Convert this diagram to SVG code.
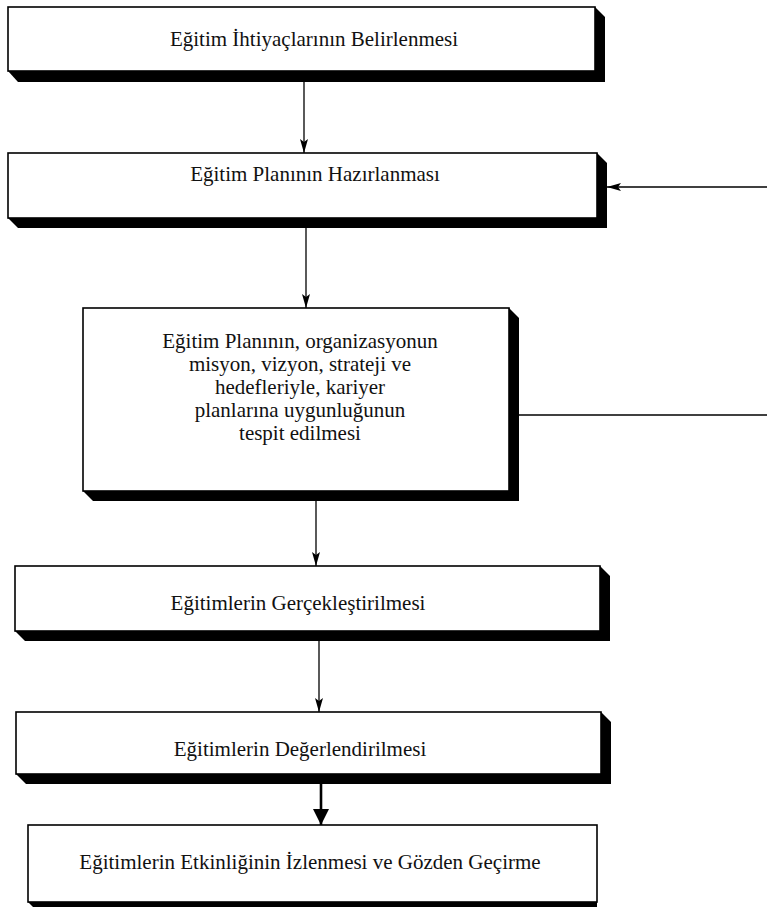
<svg xmlns="http://www.w3.org/2000/svg" width="767" height="911" viewBox="0 0 767 911">
  <defs>
    <style>
      .box { fill: #ffffff; stroke: #000000; stroke-width: 1.6; }
      .shadow { fill: #000000; }
      .lbl { font-family: "Liberation Serif", "Times New Roman", serif; font-size: 21px; fill: #111111; text-anchor: middle; }
      .conn { fill: none; stroke: #000000; stroke-width: 1.3; }
      .conn-bold { fill: none; stroke: #000000; stroke-width: 2.6; }
    </style>
    <marker id="arrow" viewBox="0 0 14 8" refX="14" refY="4" markerWidth="14" markerHeight="8" markerUnits="userSpaceOnUse" orient="auto">
      <path d="M0,0 L14,4 L0,8 L3,4 z" fill="#000000"/>
    </marker>
    <marker id="arrow-big" viewBox="0 0 16 16" refX="16" refY="8" markerWidth="17" markerHeight="16" markerUnits="userSpaceOnUse" orient="auto">
      <path d="M0,0 L16,8 L0,16 z" fill="#000000"/>
    </marker>
  </defs>

  <rect width="767" height="911" fill="#ffffff"/>

  <!-- connectors -->
  <g id="connectors">
    <line class="conn" x1="304" y1="82" x2="304" y2="153" marker-end="url(#arrow)"/>
    <line class="conn" x1="767" y1="187" x2="607" y2="187" marker-end="url(#arrow)"/>
    <line class="conn" x1="306" y1="228" x2="306" y2="308" marker-end="url(#arrow)"/>
    <line class="conn" x1="519" y1="415" x2="767" y2="415"/>
    <line class="conn" x1="316" y1="501" x2="316" y2="566" marker-end="url(#arrow)"/>
    <line class="conn" x1="319" y1="641" x2="319" y2="712" marker-end="url(#arrow)"/>
    <line class="conn-bold" x1="321" y1="784" x2="321" y2="825" marker-end="url(#arrow-big)"/>
  </g>

  <!-- needs analysis -->
  <g id="node-ihtiyac">
    <polygon class="shadow" points="595,7 605,17 605,82 18,82 8,71"/>
    <rect class="box" x="8" y="7" width="587" height="64"/>
    <text class="lbl" x="314" y="46">Eğitim İhtiyaçlarının Belirlenmesi</text>
  </g>

  <!-- plan preparation -->
  <g id="node-plan">
    <polygon class="shadow" points="597,153 607,163 607,228 18,228 8,218"/>
    <rect class="box" x="8" y="153" width="589" height="65"/>
    <text class="lbl" x="315" y="181">Eğitim Planının Hazırlanması</text>
  </g>

  <!-- plan conformity check -->
  <g id="node-uygunluk">
    <polygon class="shadow" points="509,308 519,318 519,501 93,501 83,491"/>
    <rect class="box" x="83" y="308" width="426" height="183"/>
    <text class="lbl" x="300" y="348">Eğitim Planının, organizasyonun</text>
    <text class="lbl" x="300" y="371">misyon, vizyon, strateji ve</text>
    <text class="lbl" x="300" y="394">hedefleriyle, kariyer</text>
    <text class="lbl" x="300" y="417">planlarına uygunluğunun</text>
    <text class="lbl" x="300" y="440">tespit edilmesi</text>
  </g>

  <!-- delivery -->
  <g id="node-gerceklestirme">
    <polygon class="shadow" points="600,566 610,576 610,641 25,641 15,631"/>
    <rect class="box" x="15" y="566" width="585" height="65"/>
    <text class="lbl" x="298" y="610">Eğitimlerin Gerçekleştirilmesi</text>
  </g>

  <!-- evaluation -->
  <g id="node-degerlendirme">
    <polygon class="shadow" points="601,712 611,722 611,784 26,784 16,774"/>
    <rect class="box" x="16" y="712" width="585" height="62"/>
    <text class="lbl" x="300" y="756">Eğitimlerin Değerlendirilmesi</text>
  </g>

  <!-- monitoring and review -->
  <g id="node-izleme">
    <polygon class="shadow" points="28,902 33,907 597,907 597,902"/>
    <rect class="box" x="28" y="825" width="569" height="77"/>
    <text class="lbl" x="310" y="869">Eğitimlerin Etkinliğinin İzlenmesi ve Gözden Geçirme</text>
  </g>
</svg>
